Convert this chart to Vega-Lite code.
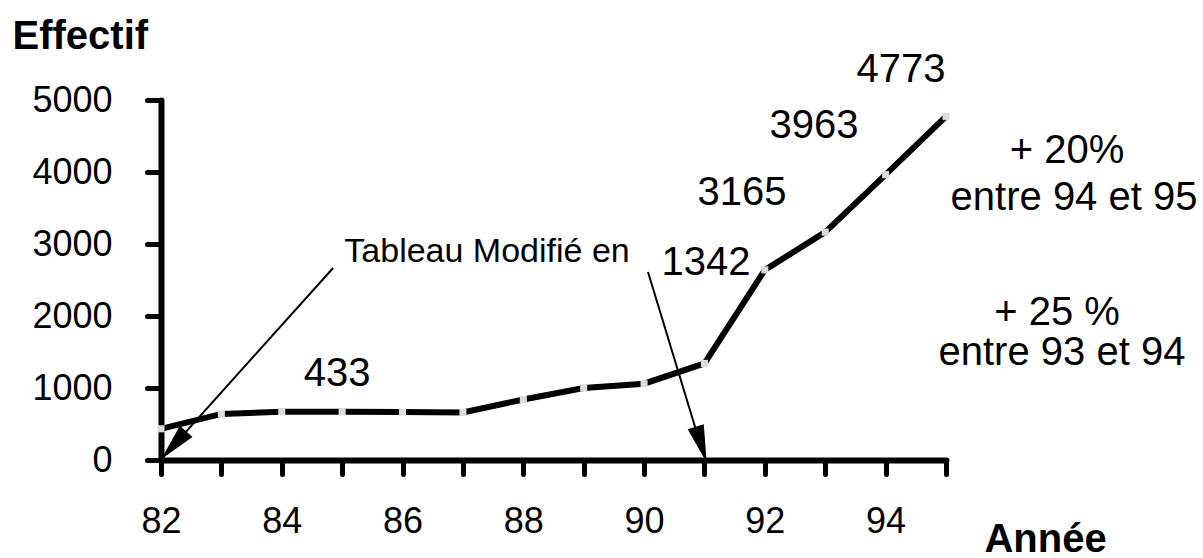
{
  "$schema": "https://vega.github.io/schema/vega-lite/v6.json",
  "autosize": {"type": "none"},
  "padding": {"left": 161, "top": 100, "right": 257, "bottom": 98},
  "width": 785,
  "height": 360,
  "background": "white",
  "config": {"view": {"stroke": null}, "font": "Liberation Sans"},
  "encoding": {
    "x": {
      "field": "x", "type": "quantitative",
      "scale": {"domain": [82, 95], "nice": false, "zero": false},
      "axis": {
        "values": [82, 83, 84, 85, 86, 87, 88, 89, 90, 91, 92, 93, 94, 95],
        "format": "d",
        "labelExpr": "datum.value % 2 == 0 ? datum.label : ''",
        "grid": false, "domainColor": "black", "domainWidth": 6, "domainCap": "round",
        "tickColor": "black", "tickWidth": 5, "tickSize": 14, "tickCap": "round",
        "labelFont": "Liberation Sans", "labelFontSize": 36, "labelColor": "black",
        "labelPadding": 30, "labelFlush": false, "labelOverlap": false,
        "title": "Année", "titleFont": "Liberation Sans", "titleFontSize": 40,
        "titleFontWeight": "bold", "titleColor": "black",
        "titleX": 884, "titleY": 91, "titleAlign": "center", "titleBaseline": "alphabetic"
      }
    },
    "y": {
      "field": "y", "type": "quantitative",
      "scale": {"domain": [0, 5000], "nice": false},
      "axis": {
        "values": [0, 1000, 2000, 3000, 4000, 5000],
        "format": "d",
        "grid": false, "domainColor": "black", "domainWidth": 6, "domainCap": "round",
        "tickColor": "black", "tickWidth": 5, "tickSize": 14, "tickCap": "round",
        "labelFont": "Liberation Sans", "labelFontSize": 36, "labelColor": "black",
        "labelPadding": 35, "labelBaseline": "middle", "labelDy": 3,
        "labelFlush": false, "labelOverlap": false,
        "title": "Effectif", "titleFont": "Liberation Sans", "titleFontSize": 40,
        "titleFontWeight": "bold", "titleColor": "black", "titleAngle": 0,
        "titleX": -149, "titleY": -52, "titleAlign": "left", "titleBaseline": "alphabetic"
      }
    }
  },
  "layer": [
    {
      "data": {"name": "serie", "values": [
        {"x": 82, "y": 433}, {"x": 83, "y": 640}, {"x": 84, "y": 670}, {"x": 85, "y": 670},
        {"x": 86, "y": 665}, {"x": 87, "y": 660}, {"x": 88, "y": 840}, {"x": 89, "y": 1000},
        {"x": 90, "y": 1060}, {"x": 91, "y": 1342}, {"x": 92, "y": 2640}, {"x": 93, "y": 3165},
        {"x": 94, "y": 3963}, {"x": 95, "y": 4773}
      ]},
      "layer": [
        {"mark": {"type": "line", "color": "black", "strokeWidth": 6, "strokeCap": "butt"}},
        {"mark": {"type": "point", "shape": "square", "filled": true, "size": 50, "color": "#dcdcdc", "opacity": 1}}
      ]
    },
    {
      "data": {"values": [
        {"x": 84.85, "y": 2667, "x2": 82.1, "y2": 100},
        {"x": 90.065, "y": 2611, "x2": 90.99, "y2": 60}
      ]},
      "mark": {"type": "rule", "color": "black", "strokeWidth": 2},
      "encoding": {"x2": {"field": "x2"}, "y2": {"field": "y2"}}
    },
    {
      "data": {"values": [{"x": 82.21, "y": 204}]},
      "mark": {"type": "point", "shape": "M0,-1L-0.45,1L0.45,1Z", "filled": true, "size": 1400, "color": "black", "opacity": 1, "angle": 222}
    },
    {
      "data": {"values": [{"x": 90.946, "y": 214}]},
      "mark": {"type": "point", "shape": "M0,-1L-0.45,1L0.45,1Z", "filled": true, "size": 1400, "color": "black", "opacity": 1, "angle": 163}
    },
    {
      "data": {"values": [
        {"x": 84.915, "y": 1028, "t": "433"},
        {"x": 91.025, "y": 2569, "t": "1342"},
        {"x": 91.622, "y": 3542, "t": "3165"},
        {"x": 92.814, "y": 4472, "t": "3963"},
        {"x": 94.255, "y": 5250, "t": "4773"},
        {"x": 97.004, "y": 4125, "t": "+ 20%"},
        {"x": 97.12, "y": 3472, "t": "entre 94 et 95"},
        {"x": 96.838, "y": 1875, "t": "+ 25 %"},
        {"x": 96.92, "y": 1319, "t": "entre 93 et 94"}
      ]},
      "mark": {"type": "text", "font": "Liberation Sans", "fontSize": 40, "align": "center", "baseline": "alphabetic", "color": "black"},
      "encoding": {"text": {"field": "t"}}
    },
    {
      "data": {"values": [{"x": 87.399, "y": 2750, "t": "Tableau Modifié en"}]},
      "mark": {"type": "text", "font": "Liberation Sans", "fontSize": 34, "align": "center", "baseline": "alphabetic", "color": "black"},
      "encoding": {"text": {"field": "t"}}
    }
  ]
}
